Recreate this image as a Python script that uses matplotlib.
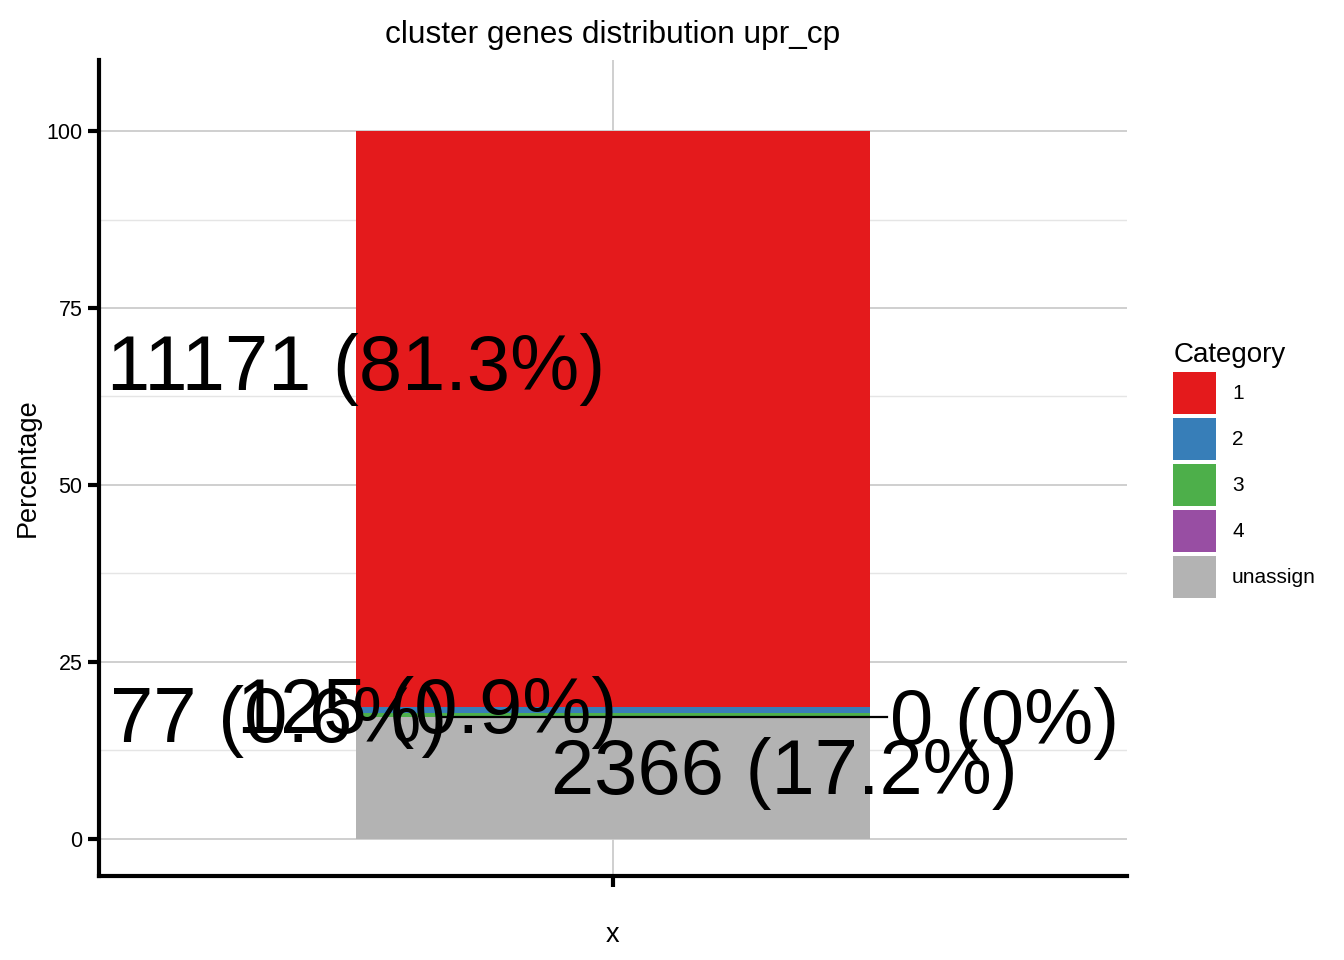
import matplotlib
matplotlib.use('Agg')
import matplotlib.pyplot as plt
from matplotlib.patches import Patch

# Daten
categories = ['1', '2', '3', '4', 'unassign']
counts = [11171, 125, 77, 0, 2366]
colors = ['#E41A1C', '#377EB8', '#4DAF4A', '#984EA3', '#B3B3B3']
# Label-Positionen (repel-artig verschoben)
label_x = [0.70, 0.783, 0.61, 1.457, 1.20]
label_y = [66.3, 17.8, 16.6, 16.3, 9.2]
segment_x = [0.80, 1.32]

plt.rcParams['font.family'] = ['Liberation Sans', 'DejaVu Sans']

total = sum(counts)
pct = [c / total * 100 for c in counts]

fig = plt.figure(figsize=(13.44, 9.6), dpi=100)
ax = fig.add_axes([99 / 1344, 1 - 876 / 960, (1127 - 99) / 1344, (876 - 60) / 960])

# gestapelt: Kategorie 1 oben, unassign unten
bottom = 0
for cat, p, col in reversed(list(zip(categories, pct, colors))):
    ax.bar(1, p, width=0.6, bottom=bottom, color=col, zorder=2)
    bottom += p

# Verbindungslinie zum 0-Label
ax.plot(segment_x, [pct[-1], pct[-1]], color='black', lw=1.6, zorder=3)

for c, p, lx, ly in zip(counts, pct, label_x, label_y):
    txt = f'{c} ({p:.1f}%)' if c > 0 else '0 (0%)'
    ax.text(lx, ly, txt, fontsize=56, ha='center', va='center', zorder=4)

ax.set_xlim(0.4, 1.6)
ax.set_ylim(-5.23, 110.03)
ax.set_yticks([0, 25, 50, 75, 100])
ax.set_yticks([12.5, 37.5, 62.5, 87.5], minor=True)
ax.set_xticks([1])
ax.set_xticklabels([''])
ax.grid(True, which='major', color='#CCCCCC', lw=1.3, zorder=0)
ax.grid(True, which='minor', axis='y', color='#E5E5E5', lw=1.0, zorder=0)
ax.set_axisbelow(True)

for s in ['top', 'right']:
    ax.spines[s].set_visible(False)
for s in ['left', 'bottom']:
    ax.spines[s].set_linewidth(3)
ax.tick_params(axis='both', which='major', width=3, length=8, labelsize=15.5, pad=4)
ax.tick_params(axis='y', which='minor', length=0)

ax.set_ylabel('Percentage', fontsize=19.5, labelpad=4)
ax.set_xlabel('x', fontsize=19.5, labelpad=21)
ax.set_title('cluster genes distribution upr_cp', fontsize=22.8, pad=12)

handles = [Patch(facecolor=c, edgecolor='none') for c in colors]
leg = fig.legend(handles, categories, title='Category', loc='upper left',
                 bbox_to_anchor=(1165 / 1344, 1 - 334 / 960), frameon=False,
                 fontsize=15, title_fontsize=20, handlelength=2.07, handleheight=2.72,
                 labelspacing=0.19, handletextpad=0.75, borderaxespad=0)
leg._legend_box.align = 'left'

fig.savefig('out.png', dpi=100)
